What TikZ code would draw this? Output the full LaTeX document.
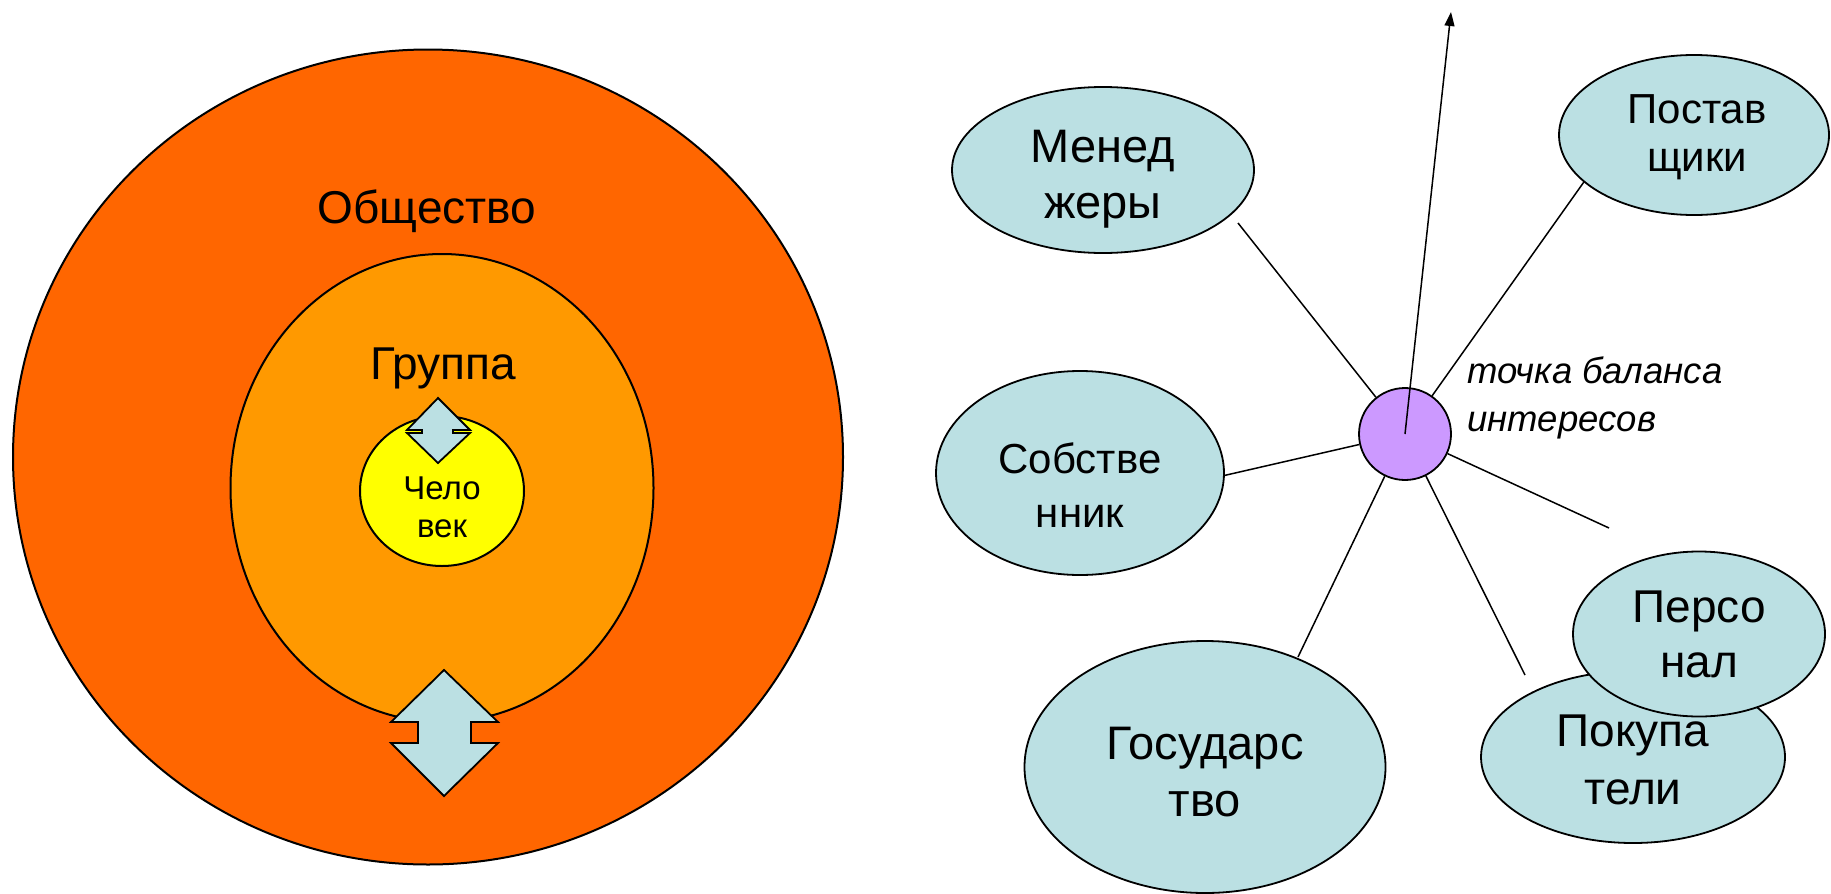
\documentclass[tikz,border=0pt]{standalone}
\usepackage{fontspec}
\setmainfont{Liberation Sans}
\usetikzlibrary{shapes.geometric,arrows.meta}
\definecolor{obsh}{HTML}{FF6600}
\definecolor{grupa}{HTML}{FF9900}
\definecolor{chel}{HTML}{FFFF00}
\definecolor{blob}{HTML}{BBE0E3}
\definecolor{lilac}{HTML}{CC99FF}
\tikzset{
  oval/.style={ellipse,draw,line width=1.8pt,fill=blob,inner sep=0pt},
  ring/.style={ellipse,draw,line width=2pt,inner sep=0pt},
  txt/.style={align=center,inner sep=0pt},
  arr/.style={draw,line width=1.8pt,fill=blob,line join=miter},
  spoke/.style={line width=1.5pt},
}
\begin{document}
\begin{tikzpicture}[x=1pt,y=-1pt]
\useasboundingbox (0,0) rectangle (1831,894);
% left: society, group, man
\node[ring,fill=obsh,minimum width=830,minimum height=815] (soc) at (428,457) {};
\node[ring,fill=grupa,minimum width=423,minimum height=468] (grp) at (442,488) {};
\node[ring,fill=chel,minimum width=164,minimum height=150] (man) at (442,491) {};
\node[txt,font=\fontsize{33}{38}\selectfont] (manT) at (442,507) {Чело\\век};
\node[anchor=base,font=\fontsize{46}{55}\selectfont] (socT) at (427,223) {Общество};
\node[anchor=base,font=\fontsize{46}{55}\selectfont] (grpT) at (443,379) {Группа};
\draw[arr] (438,398) -- (470,430) -- (453,430) -- (453,433) -- (470,433) -- (438,463) -- (407,433) -- (422,433) -- (422,430) -- (407,430) -- cycle;
\draw[arr] (444,670) -- (498,722) -- (471,722) -- (471,743) -- (498,743) -- (444,796) -- (391,743) -- (418,743) -- (418,722) -- (391,722) -- cycle;
% right: balance of interests
\node[circle,draw,line width=1.8pt,fill=lilac,minimum size=92,inner sep=0pt] (bal) at (1405,434) {};
\coordinate (up) at (1451,12);
\coordinate (eM) at (1238,223);
\coordinate (eP) at (1586,179);
\coordinate (eS) at (1209,479);
\coordinate (eR) at (1609,528);
\coordinate (eK) at (1525,675);
\coordinate (eG) at (1298,657);
\draw[spoke] (bal) -- (eM);
\draw[spoke] (bal) -- (eP);
\draw[spoke] (bal) -- (eS);
\draw[spoke] (bal) -- (eR);
\draw[spoke] (bal) -- (eK);
\draw[spoke] (bal) -- (eG);
\draw[spoke,-{Triangle[length=14pt,width=10pt]}] (bal.center) -- (up);
\node[anchor=north west,align=left,inner sep=0pt,font=\itshape\fontsize{36.5}{48}\selectfont] (tochka) at (1467,357) {точка баланса\\интересов};
\node[oval,minimum width=302,minimum height=166] (men) at (1103,170) {};
\node[txt,font=\fontsize{47}{56}\selectfont] (menT) at (1103,179) {Менед\\жеры};
\node[oval,minimum width=270,minimum height=160] (post) at (1694,135) {};
\node[txt,font=\fontsize{42}{48}\selectfont] (postT) at (1697,137) {Постав\\щики};
\node[oval,minimum width=288,minimum height=204] (sob) at (1080,473) {};
\node[txt,font=\fontsize{42}{54}\selectfont] (sobT) at (1080,485) {Собстве\\нник};
\node[oval,minimum width=361,minimum height=252] (gos) at (1205,767) {};
\node[txt,font=\fontsize{47}{57}\selectfont] (gosT) at (1205,772) {Государс\\тво};
\node[oval,minimum width=304,minimum height=172] (pok) at (1633,757) {};
\node[txt,font=\fontsize{46}{58}\selectfont] (pokT) at (1633,760) {Покупа\\тели};
\node[oval,minimum width=252,minimum height=165] (pers) at (1699,634) {};
\node[txt,font=\fontsize{46}{55}\selectfont] (persT) at (1699,634) {Персо\\нал};
\end{tikzpicture}
\end{document}
